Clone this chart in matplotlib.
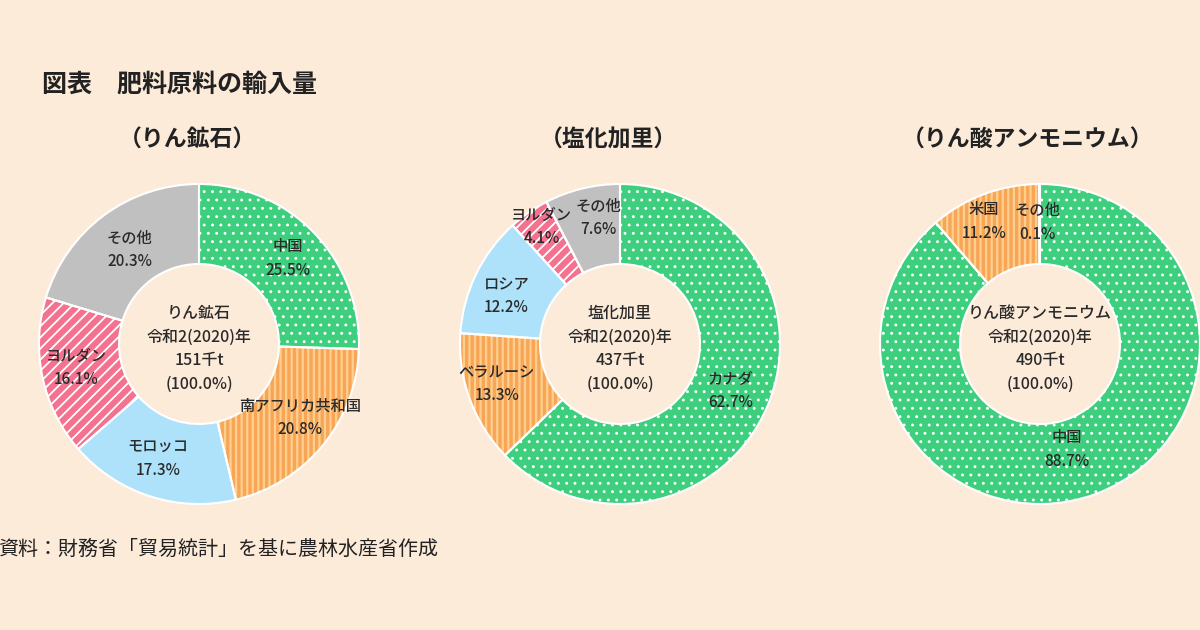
import math
import matplotlib
matplotlib.use("Agg")
from matplotlib import pyplot as plt

plt.rcParams['font.family'] = ['Noto Sans CJK JP', 'DejaVu Sans']
plt.rcParams['hatch.linewidth'] = 1.4

# data
title = '図表　肥料原料の輸入量'
source = '資料：財務省「貿易統計」を基に農林水産省作成'

chart_titles = ['（りん鉱石）', '（塩化加里）', '（りん酸アンモニウム）']
center_texts = [
    'りん鉱石\n令和2(2020)年\n151千t\n(100.0%)',
    '塩化加里\n令和2(2020)年\n437千t\n(100.0%)',
    'りん酸アンモニウム\n令和2(2020)年\n490千t\n(100.0%)',
]

phos_labels = ['中国', '南アフリカ共和国', 'モロッコ', 'ヨルダン', 'その他']
phos_values = [25.5, 20.8, 17.3, 16.1, 20.3]

potash_labels = ['カナダ', 'ベラルーシ', 'ロシア', 'ヨルダン', 'その他']
potash_values = [62.7, 13.3, 12.2, 4.1, 7.6]

amm_labels = ['中国', '米国', 'その他']
amm_values = [88.7, 11.2, 0.1]

# face, hatch, hatch colour, hatch line width
styles = {
    'green': ('#3ecf7e', '..', 'white', 0.9),
    'orange': ('#f9a557', '|||', '#fdd08e', 1.6),
    'blue': ('#aee2fb', '', '#aee2fb', 1.0),
    'pink': ('#f4728f', '///', 'white', 1.3),
    'gray': ('#c0c0c0', '', '#c0c0c0', 1.0),
}
phos_kind = ['green', 'orange', 'blue', 'pink', 'gray']
potash_kind = ['green', 'orange', 'blue', 'pink', 'gray']
amm_kind = ['green', 'orange', 'gray']

# label radius and angle nudge (degrees) per wedge
phos_lr = [0.77, 0.78, 0.76, 0.78, 0.73]
phos_da = [0, -3, 2, 1, 0]
potash_lr = [0.75, 0.81, 0.77, 0.88, 0.80]
potash_da = [0, 2, -3, 1, 4]
amm_lr = [0.68, 0.84, 0.76]
amm_da = [6, -4, -1]

centers_px = [199, 620, 1040]
cy_px = 344
bg = '#fdebda'
txt_col = '#2a2a2a'


def donut(ax, labels, values, kinds, lr, da, center_text):
    faces = [styles[k][0] for k in kinds]
    hatches = [styles[k][1] for k in kinds]
    wedges, _ = ax.pie(values, radius=1, startangle=90, counterclock=False,
                       colors=faces, hatch=hatches,
                       wedgeprops=dict(width=0.5, linewidth=0))
    for w, k in zip(wedges, kinds):
        w.set_edgecolor(styles[k][2])
        w.set_linewidth(0)
        if hasattr(w, 'set_hatch_linewidth'):
            w.set_hatch_linewidth(styles[k][3])
    # white outline on top
    ax.pie(values, radius=1, startangle=90, counterclock=False,
           colors=['none'] * len(values),
           wedgeprops=dict(width=0.5, linewidth=1.5, edgecolor='white'))
    total = sum(values)
    start = 0
    for lab, v, r, d in zip(labels, values, lr, da):
        mid = (start + v / 2) / total * 360 + d
        start += v
        x = r * math.sin(math.radians(mid))
        y = r * math.cos(math.radians(mid))
        ax.text(x, y, f'{lab}\n{v:.1f}%', ha='center', va='center',
                fontsize=11, fontweight='medium', color=txt_col,
                linespacing=1.5)
    ax.text(0, -0.03, center_text, ha='center', va='center', fontsize=11.5,
            fontweight='medium', color=txt_col, linespacing=1.5)
    lim = 170 / 160
    ax.set_xlim(-lim, lim)
    ax.set_ylim(-lim, lim)
    ax.axis('off')


fig = plt.figure(figsize=(12, 6.3), dpi=100)
fig.patch.set_facecolor(bg)

all_data = [
    (phos_labels, phos_values, phos_kind, phos_lr, phos_da),
    (potash_labels, potash_values, potash_kind, potash_lr, potash_da),
    (amm_labels, amm_values, amm_kind, amm_lr, amm_da),
]

half = 170
for i, (labs, vals, kinds, lr, da) in enumerate(all_data):
    cx = centers_px[i]
    ax = fig.add_axes([(cx - half) / 1200, (630 - cy_px - half) / 630,
                       2 * half / 1200, 2 * half / 630])
    ax.set_facecolor('none')
    donut(ax, labs, vals, kinds, lr, da, center_texts[i])
    fig.text((cx - 12) / 1200, 1 - 140 / 630, chart_titles[i], ha='center',
             va='center', fontsize=16.5, fontweight='bold', color='#222222')

fig.text(42 / 1200, 1 - 85 / 630, title, ha='left', va='center',
         fontsize=18, fontweight='bold', color='#222222')
fig.text(-0.002, 1 - 549 / 630, source, ha='left', va='center',
         fontsize=14.4, color='#222222')

fig.savefig('out.png', dpi=100, facecolor=bg)
